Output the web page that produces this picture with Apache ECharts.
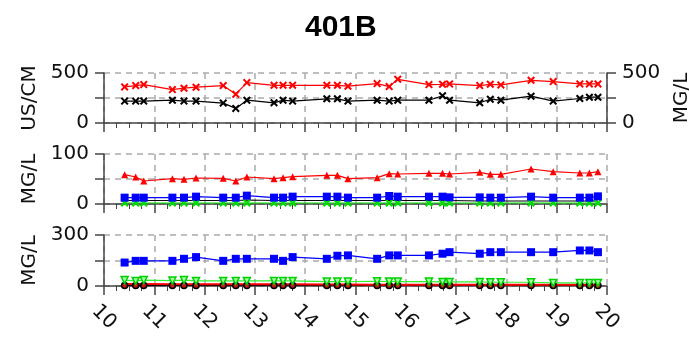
<!DOCTYPE html>
<html>
<head>
<meta charset="utf-8">
<script src="https://cdn.jsdelivr.net/npm/echarts@6/dist/echarts.min.js"></script>
<style>
  html, body { margin: 0; padding: 0; background: #fff; }
  #chart { width: 689px; height: 339px; }
</style>
</head>
<body>
<div id="chart"></div>
<script>
// sample days (x axis)
const days = [10.41, 10.63, 10.79, 11.36, 11.59, 11.83, 12.37, 12.62, 12.84, 13.38, 13.56, 13.75, 14.43, 14.64, 14.85,
  15.43, 15.67, 15.84, 16.46, 16.73, 16.87, 17.47, 17.68, 17.89, 18.49, 18.93, 19.46, 19.65, 19.82];

// top panel: conductivity (US/CM) and TDS (MG/L)
const cond = [361, 374, 384, 334, 348, 358, 374, 288, 404, 377, 377, 377, 377, 377, 368,
  394, 364, 437, 384, 387, 391, 374, 387, 381, 427, 414, 391, 391, 391];
const tds = [219, 219, 219, 228, 219, 219, 199, 146, 228, 202, 228, 219, 242, 242, 219,
  228, 219, 228, 228, 272, 228, 202, 238, 228, 268, 219, 245, 258, 258];

// middle panel (MG/L)
const midRed = [58.7, 54, 46, 50.7, 49.3, 52, 51.3, 46, 54, 50.7, 52.7, 54.7, 57.3, 57.3, 50.7,
  52.7, 60.7, 60, 61.3, 61.3, 60, 63.3, 59.3, 59.3, 70, 64.7, 62, 62, 64.7];
const midBlue = [12.7, 12.7, 12.7, 12.7, 12.7, 14.7, 12.7, 12.7, 16.7, 12.7, 12.7, 14.7, 14.7, 14.7, 12.7,
  12.7, 16, 14.7, 14.7, 14.7, 13.3, 13.3, 12.7, 12.7, 14.7, 12.7, 12.7, 12.7, 15.3];
const midBlack = [7, 7, 7, 7, 7, 7, 7, 7, 8, 7, 7, 7, 7, 7, 7,
  7, 7, 7, 7, 7, 7, 6, 6, 6, 6, 6, 6, 6, 6];
const midGreen = [2, 2, 2, 2, 2, 2, 2, 2, 2, 2, 2, 2, 2, 2, 2,
  2, 2, 2, 2, 2, 2, 2, 2, 2, 2, 2, 2, 2, 2];

// bottom panel (MG/L)
const lowBlue = [138, 148, 148, 148, 160, 170, 148, 160, 160, 160, 148, 170, 160, 178, 180,
  160, 180, 180, 180, 190, 199, 190, 199, 199, 199, 199, 209, 209, 199];
const lowGreen = [35, 30, 35, 32, 35, 30, 30, 30, 30, 30, 30, 30, 26, 26, 26,
  28, 26, 26, 26, 24, 24, 24, 22, 22, 22, 18, 18, 18, 18];
const lowRed = [12, 12, 12, 11, 11, 11, 10, 10, 10, 10, 10, 10, 9, 9, 9,
  8, 8, 8, 8, 8, 8, 7, 7, 7, 7, 7, 7, 7, 7];
const lowBlack = [3, 3, 3, 3, 3, 3, 3, 3, 3, 3, 3, 3, 3, 3, 3,
  3, 3, 3, 3, 3, 3, 3, 3, 3, 3, 3, 3, 3, 3];

const xTicks = [10, 20, 1];

const XMARK = 'path://M0,1.8 L1.8,0 L5,3.2 L8.2,0 L10,1.8 L6.8,5 L10,8.2 L8.2,10 L5,6.8 L1.8,10 L0,8.2 L3.2,5 Z';
const FONT = 'DejaVu Sans';
const AXIS_COLOR = '#444';

const pair = (vals) => vals.map((v, i) => [days[i], v]);

function xAxis(gridIndex, showLabels) {
  return {
    type: 'value', gridIndex,
    min: xTicks[0], max: xTicks[1], interval: xTicks[2],
    axisLine: { show: true, onZero: false, lineStyle: { color: AXIS_COLOR, width: 1.5 } },
    axisTick: { show: true, length: 9, lineStyle: { color: AXIS_COLOR, width: 1.5 } },
    minorTick: { show: true, splitNumber: 4, length: 5, lineStyle: { color: AXIS_COLOR, width: 1 } },
    splitLine: { show: true, lineStyle: { color: '#aaa', type: [6, 5], width: 1.5 } },
    axisLabel: showLabels ? {
      show: true, rotate: -45, align: 'center', verticalAlign: 'middle', margin: 31,
      fontFamily: FONT, fontSize: 20, color: '#111'
    } : { show: false }
  };
}

function yAxis(gridIndex, max, name, position, nameGap) {
  return {
    type: 'value', gridIndex, position,
    min: 0, max, interval: max / 2,
    name, nameLocation: 'middle', nameGap,
    nameTextStyle: { fontFamily: FONT, fontSize: 20, color: '#111' },
    axisLine: { show: true, onZero: false, lineStyle: { color: AXIS_COLOR, width: 1.5 } },
    axisTick: { show: true, length: 9, lineStyle: { color: AXIS_COLOR, width: 1.5 } },
    splitLine: { show: position === 'left', lineStyle: { color: '#aaa', type: [6, 5], width: 1.5 } },
    axisLabel: {
      margin: 15, fontFamily: FONT, fontSize: 20, color: '#111',
      formatter: (v) => (v === 0 || v === max) ? String(v) : ''
    }
  };
}

function line(name, xi, yi, vals, color, symbol, size, extra) {
  return Object.assign({
    name, type: 'line', xAxisIndex: xi, yAxisIndex: yi,
    data: pair(vals), symbol, symbolSize: size, showSymbol: symbol !== 'none',
    lineStyle: { color, width: 1.2 },
    itemStyle: { color },
    animation: false
  }, extra || {});
}

const chart = echarts.init(document.getElementById('chart'), null, { renderer: 'canvas' });
chart.setOption({
  backgroundColor: '#fff',
  title: {
    text: '401B', left: 300, top: 8,
    textStyle: { fontFamily: 'Liberation Sans', fontWeight: 'bold', fontSize: 30, color: '#000' }
  },
  grid: [
    { left: 104, right: 82, top: 73, height: 50, outerBoundsMode: 'none' },
    { left: 104, right: 82, top: 154, height: 50, outerBoundsMode: 'none' },
    { left: 104, right: 82, top: 235, height: 51, outerBoundsMode: 'none' }
  ],
  xAxis: [xAxis(0, false), xAxis(1, false), xAxis(2, true)],
  yAxis: [
    yAxis(0, 500, 'US/CM', 'left', 62),
    yAxis(0, 500, 'MG/L', 'right', 65),
    yAxis(1, 100, 'MG/L', 'left', 62),
    yAxis(2, 300, 'MG/L', 'left', 62)
  ],
  series: [
    line('Conductivity', 0, 0, cond, '#ff0000', XMARK, 8),
    line('TDS', 0, 1, tds, '#000000', XMARK, 8),

    line('Green', 1, 2, midGreen, '#00e000', XMARK, 8),
    line('Black', 1, 2, midBlack, '#000000', 'none', 0),
    line('Blue', 1, 2, midBlue, '#0000ff', 'rect', 8),
    line('Red', 1, 2, midRed, '#ff0000', 'triangle', 7),

    line('Black circles', 2, 3, lowBlack, '#000000', 'circle', 6,
      { itemStyle: { color: '#c81818', borderColor: '#000', borderWidth: 1.5 } }),
    line('Red', 2, 3, lowRed, '#ff0000', 'none', 0, { lineStyle: { color: '#ff0000', width: 2 } }),
    line('Green', 2, 3, lowGreen, '#30f030', 'triangle', 7,
      { symbolRotate: 180, itemStyle: { color: '#a8ffa8', borderColor: '#00d000', borderWidth: 1.5 } }),
    line('Blue', 2, 3, lowBlue, '#0000ff', 'rect', 8)
  ]
});
</script>
</body>
</html>
